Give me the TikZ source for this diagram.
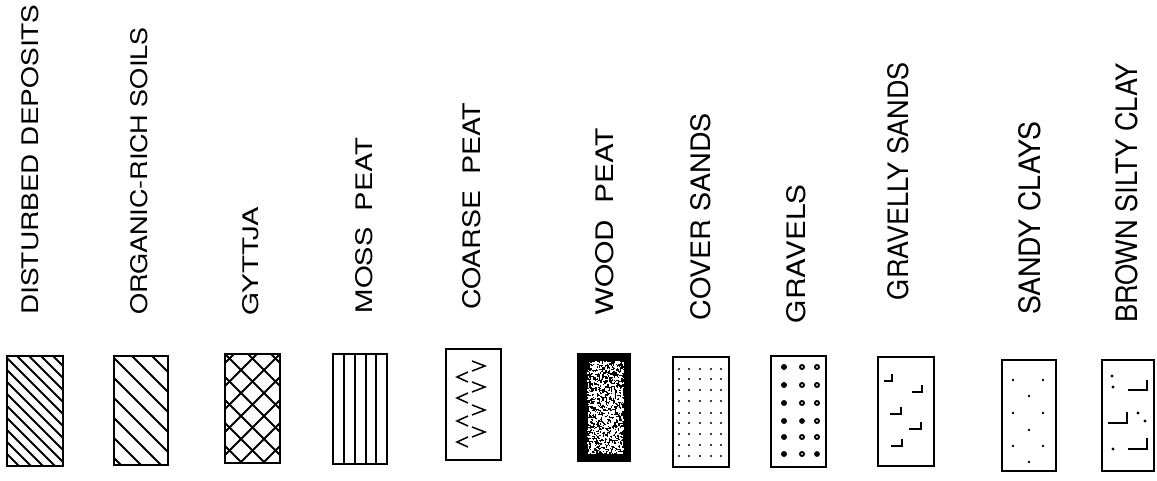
\documentclass[tikz,border=0pt]{standalone}
\usepackage{graphicx}
\usepackage{fontspec}
\newfontfamily\lab{TeX Gyre Heros}
\tikzset{
  boxline/.style={line width=2.5pt},
  hatch/.style={line width=1.8pt},
  thinline/.style={line width=1.3pt},
  mark1/.style={line width=1.5pt},
  lbl/.style={rotate=90, anchor=base west, inner sep=0pt, outer sep=0pt}
}
\newcommand{\Lbl}[6]{\node[lbl] (#1) at (#2,#3) {\resizebox{#4pt}{#5pt}{\lab #6}};}
\begin{document}
\begin{tikzpicture}[x=1pt,y=-1pt]
\useasboundingbox (0,0) rectangle (1157,481);
% labels
\Lbl{l1}{38}{315}{310}{17}{DISTURBED DEPOSITS}
\Lbl{l2}{147}{315}{287}{17}{ORGANIC-RICH SOILS}
\Lbl{l3}{258}{315}{108}{16}{GYTTJA}
\Lbl{l4}{372}{313}{175}{17}{MOSS\ \ PEAT}
\Lbl{l5}{480}{310}{207}{18}{COARSE\ \ PEAT}
\Lbl{l6}{613}{315}{187}{18}{WOOD\ \ PEAT}
\Lbl{l7}{710}{320}{207}{20}{COVER SANDS}
\Lbl{l8}{805}{323}{138}{19}{GRAVELS}
\Lbl{l9}{908}{300}{238}{21}{GRAVELLY SANDS}
\Lbl{l10}{1040}{315}{193}{22}{SANDY CLAYS}
\Lbl{l11}{1137}{323}{260}{22}{BROWN SILTY CLAY}
% 1 disturbed deposits
\begin{scope}
\clip (7,356) rectangle (63,466);
\foreach \k in {-110,-98,...,60} \draw[hatch] (7+\k,356) -- ++(125,125);
\end{scope}
\draw[boxline] (7,356) rectangle (63,466);
% 2 organic-rich soils
\begin{scope}
\clip (114,356) rectangle (168,465);
\foreach \k in {-102,-82,...,58} \draw[hatch] (114+\k,356) -- ++(125,125);
\end{scope}
\draw[boxline] (114,356) rectangle (168,465);
% 3 gyttja
\begin{scope}
\clip (225,354) rectangle (280,463);
\foreach \k in {-115,-92,...,60} {
  \draw[hatch] (225+\k,354) -- ++(125,125);
  \draw[hatch] (280-\k,354) -- ++(-125,125);
}
\end{scope}
\draw[boxline] (225,354) rectangle (280,463);
% 4 moss peat
\foreach \xx in {344,355,366,376} \draw[thinline] (\xx,354) -- (\xx,464);
\draw[boxline] (333,354) rectangle (387,464);
% 5 coarse peat
\foreach \yy in {366,387,410,432} \draw[mark1] (472,\yy-5) -- (485,\yy) -- (472,\yy+5);
\foreach \yy in {377,398,421,442} \draw[mark1] (468,\yy-5) -- (457,\yy) -- (468,\yy+5);
\draw[boxline] (446,349) rectangle (501,460);
% 6 wood peat
\fill[black] (577,353) rectangle (631,462);
\pgfmathsetseed{7}
\foreach \i in {1,...,1300} {
  \pgfmathsetmacro\rx{605+18*rand}
  \pgfmathsetmacro\ry{407+46*rand}
  \fill[white] (\rx,\ry) rectangle ++(1.5,1.5);
}
% 7 cover sands
\foreach \xx in {679,689,700,711,721}
  \foreach \yy in {369,379,390,401,413,423,434,445,456}
    \fill (\xx,\yy) circle (1.2);
\draw[boxline] (673,357) rectangle (729,467);
% 8 gravels
\foreach \yy in {367,385,403,421,437,454} \fill (784,\yy) circle (3);
\foreach \yy in {367,385,403,437,454} \draw[line width=1.9pt] (802,\yy) circle (2);
\fill (802,421) circle (2.9);
\foreach \yy in {367,385,403,421,437} \draw[line width=1.9pt] (817,\yy) circle (2);
\fill (817,454) circle (2.9);
\draw[boxline] (771,356) rectangle (826,467);
% 9 gravelly sands
\draw[mark1] (884,381) -- (892,381) -- (892,374);
\draw[mark1] (912,392) -- (922,392) -- (922,385);
\draw[mark1] (890,414) -- (901,414) -- (901,407);
\draw[mark1] (909,429) -- (921,429) -- (921,422);
\draw[mark1] (891,446) -- (902,446) -- (902,439);
\draw[boxline] (878,357) rectangle (934,466);
% 10 sandy clays
\foreach \p in {(1013,380),(1043,380),(1029,396),(1013,413),(1043,413),(1029,430),(1013,446),(1043,446),(1029,462)}
  \fill \p circle (1.4);
\draw[boxline] (1002,360) rectangle (1056,471);
% 11 brown silty clay
\draw[mark1] (1128,390) -- (1147,390) -- (1147,380);
\draw[mark1] (1108,423) -- (1127,423) -- (1127,412);
\draw[mark1] (1128,449) -- (1147,449) -- (1147,438);
\foreach \p in {(1112,376),(1113,387),(1138,413),(1145,421),(1113,449)}
  \fill \p circle (1.6);
\draw[boxline] (1102,360) rectangle (1154,471);
\end{tikzpicture}
\end{document}
